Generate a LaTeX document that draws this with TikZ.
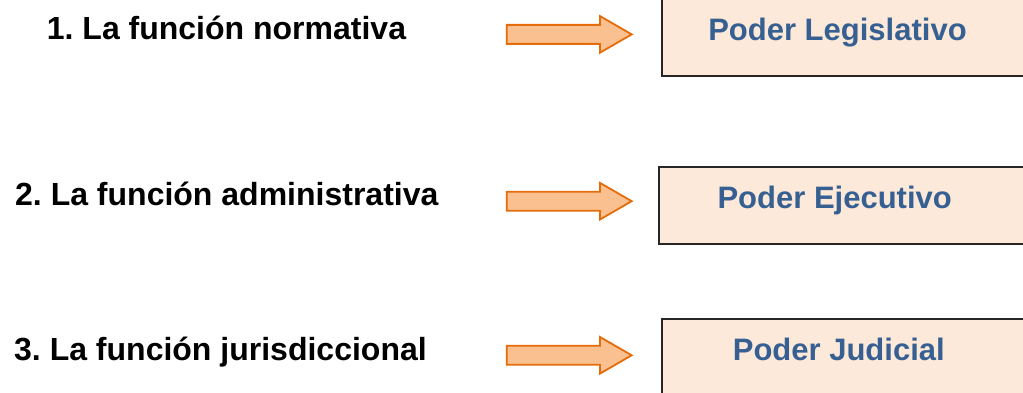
\documentclass[tikz,border=0pt]{standalone}
\usepackage{fontspec}
\setmainfont{Liberation Sans}
\frenchspacing

\definecolor{boxfill}{HTML}{FDE9D9}
\definecolor{poderblue}{HTML}{376092}
\definecolor{arrowfill}{HTML}{FAC090}
\definecolor{arrowline}{HTML}{E46C0A}

\tikzset{
    funcion/.style={anchor=base west, inner sep=0pt,
        font=\fontsize{32}{36}\selectfont\bfseries},
    poder/.style={anchor=base, inner sep=0pt, text=poderblue,
        font=\fontsize{31}{36}\selectfont\bfseries},
    poderbox/.style={draw=black!85, line width=2pt, fill=boxfill},
    flecha/.style={draw=arrowline, line width=1.8pt, fill=arrowfill, line join=miter},
}

\begin{document}
\begin{tikzpicture}[x=1pt,y=1pt]

    \useasboundingbox (0,0) rectangle (1023,393);
    \clip (0,0) rectangle (1023,393);

    % Make the boxes
    \foreach \l/\b/\t in {662/317/400, 659/149/226.3, 662/-10/73.7}{
        \draw[poderbox] (\l,\b) rectangle (1040,\t);
    }

    % Make the function names
    \node[funcion] (fun1) at (46.7,353.7) {1. La función normativa};
    \node[funcion] (fun2) at (15,187) {2. La función administrativa};
    \node[funcion] (fun3) at (14,32) {3. La función jurisdiccional};

    % Make the powers
    \node[poder] (poder1) at (837.5,352.3) {Poder Legislativo};
    \node[poder] (poder2) at (834.7,184) {Poder Ejecutivo};
    \node[poder] (poder3) at (838.8,32.3) {Poder Judicial};

    % Make the arrows
    \foreach \y in {358.6,191.8,37.7}{
        \draw[flecha] (506.7,\y-9.5) -- (600,\y-9.5) -- (600,\y-18.3) -- (631.7,\y)
            -- (600,\y+18.3) -- (600,\y+9.5) -- (506.7,\y+9.5) -- cycle;
    }

\end{tikzpicture}
\end{document}
